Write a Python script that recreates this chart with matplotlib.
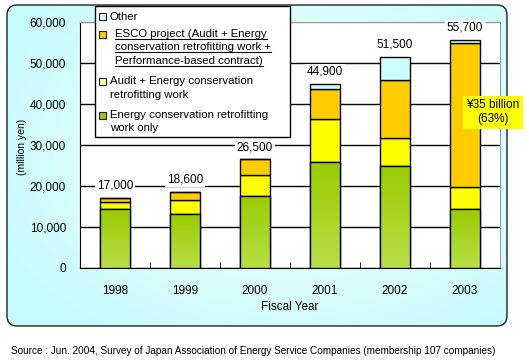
import matplotlib.pyplot as plt
import numpy as np
from matplotlib.patches import FancyBboxPatch, Rectangle
from matplotlib.colors import LinearSegmentedColormap

years = ['1998', '1999', '2000', '2001', '2002', '2003']
retrofit_only = [14500, 13100, 17500, 25800, 25000, 14500]
audit_retrofit = [1500, 3600, 5100, 10500, 6700, 5200]
esco = [1000, 1900, 3900, 7300, 14100, 35100]
other = [0, 0, 0, 1300, 5700, 900]
totals = [17000, 18600, 26500, 44900, 51500, 55700]

legend_labels = ['Other',
                 'ESCO project (Audit + Energy\nconservation retrofitting work +\nPerformance-based contract)',
                 'Audit + Energy conservation\nretrofitting work',
                 'Energy conservation retrofitting\nwork only']

W, H = 529, 361
plt.rcParams['font.family'] = ['Liberation Sans', 'DejaVu Sans']
fig = plt.figure(figsize=(W / 100, H / 100), dpi=100)

# background panel (pixel coordinates)
bg = fig.add_axes([0, 0, 1, 1], zorder=0)
bg.set_xlim(0, W)
bg.set_ylim(H, 0)
bg.axis('off')
panel = FancyBboxPatch((7, 5), 500, 321, boxstyle='round,pad=0,rounding_size=10',
                       fc='none', ec='#222222', lw=1, zorder=2)
bg.add_patch(panel)
yy, xx = np.mgrid[0:H, 0:W]
grad = np.sqrt(((xx - 290) / 300) ** 2 + ((yy - 150) / 200) ** 2)
cmap_bg = LinearSegmentedColormap.from_list('bg', ['#F4FFFF', '#C6FBFB'])
im = bg.imshow(grad, extent=(0, W, H, 0), cmap=cmap_bg, vmin=0.2, vmax=1.1, aspect='auto')
im.set_clip_path(panel)

# main plot
ax = fig.add_axes([80 / W, 1 - 268 / H, 420 / W, 246 / H], zorder=1)
ax.set_facecolor('white')
x = np.arange(len(years))
w = 0.43

b1 = ax.bar(x, retrofit_only, w, color='#99CC00', edgecolor='black', lw=1, zorder=3)
bottom = np.array(retrofit_only)
ax.bar(x, audit_retrofit, w, bottom=bottom, color='#FFFF00', edgecolor='black', lw=1, zorder=3)
bottom = bottom + np.array(audit_retrofit)
ax.bar(x, esco, w, bottom=bottom, color='#FFCC00', edgecolor='black', lw=1, zorder=3)
bottom = bottom + np.array(esco)
ax.bar(x, other, w, bottom=bottom, color='#CCFFFF', edgecolor='black', lw=1, zorder=3)

# gradient on green bars
cmap_g = LinearSegmentedColormap.from_list('g', ['#B8DE48', '#99CC00'])
gimg = np.linspace(0, 1, 100).reshape(-1, 1)
for i, rect in enumerate(b1.patches):
    gi = ax.imshow(gimg, extent=(x[i] - w / 2, x[i] + w / 2, 0, retrofit_only[i]),
                   origin='lower', cmap=cmap_g, aspect='auto', zorder=3.5)
    gi.set_clip_path(rect)
    ax.add_patch(Rectangle((x[i] - w / 2, 0), w, retrofit_only[i], fc='none', ec='black',
                           lw=1, zorder=4))

for i, t in enumerate(totals):
    ax.text(x[i], t + 3000, f'{t:,}', ha='center', va='center', fontsize=8.5, zorder=5,
            bbox=dict(fc='white', ec='none', pad=1))

ax.annotate('¥35 billion\n(63%)', xy=(5.4, 38000), ha='center', va='center', fontsize=8.5,
            annotation_clip=False, zorder=6,
            bbox=dict(fc='#FFFF00', ec='none', pad=2.5))

ax.set_xlim(-0.5, 5.5)
ax.set_ylim(0, 60000)
ax.set_yticks(range(0, 60001, 10000))
ax.set_yticklabels([f'{v:,}' for v in range(0, 60001, 10000)], fontsize=8.5)
ax.tick_params(axis='y', length=0, pad=10)
ax.set_xticks(x)
ax.set_xticklabels(years, fontsize=8.5)
ax.tick_params(axis='x', length=0, pad=12)
ax.set_xticks(np.arange(0.5, 5, 1), minor=True)
ax.tick_params(axis='x', which='minor', direction='in', length=4, color='black')
ax.grid(axis='y', color='black', lw=1, zorder=1)
ax.set_axisbelow(True)
ax.get_ygridlines()[-1].set_color('#999999')
for s in ['top', 'right']:
    ax.spines[s].set_color('#999999')
for s in ['left', 'bottom']:
    ax.spines[s].set_color('black')

fig.text(22 / W, 1 - 147 / H, '(million yen)', rotation=90, ha='center', va='center', fontsize=7.5)
fig.text(290 / W, 1 - 307 / H, 'Fiscal Year', ha='center', va='center', fontsize=8.5)
fig.text(11 / W, 1 - 351 / H,
         'Source : Jun. 2004, Survey of Japan Association of Energy Service Companies (membership 107 companies)',
         ha='left', va='center', fontsize=7.2)

# legend overlay (pixel coordinates)
lg = fig.add_axes([0, 0, 1, 1], zorder=5)
lg.set_xlim(0, W)
lg.set_ylim(H, 0)
lg.axis('off')
lg.add_patch(Rectangle((95, 6), 195, 131, fc='white', ec='black', lw=1))
sq_colors = ['#CCFFFF', '#FFCC00', '#FFFF99', '#99CC00']
sq_y = [16.5, 34, 81.5, 115]
line_h = 13.3
esco_texts = []
for lab, c, y0 in zip(legend_labels, sq_colors, sq_y):
    lg.add_patch(Rectangle((99, y0 - 3.5), 7, 7, fc=c, ec='#222222', lw=0.8))
    tx = 115 if c == '#FFCC00' else 110
    for k, line in enumerate(lab.split('\n')):
        t = lg.text(tx, y0 + k * line_h, line, ha='left', va='center', fontsize=8.2)
        if c == '#FFCC00':
            esco_texts.append(t)

# underline the ESCO entry (it is a link in the original)
fig.canvas.draw()
r = fig.canvas.get_renderer()
for t in esco_texts:
    bb = t.get_window_extent(r).transformed(lg.transData.inverted())
    yb = max(bb.y0, bb.y1)
    lg.plot([bb.x0, bb.x1], [yb, yb], color='black', lw=0.8)

fig.savefig('out.png', dpi=100)
